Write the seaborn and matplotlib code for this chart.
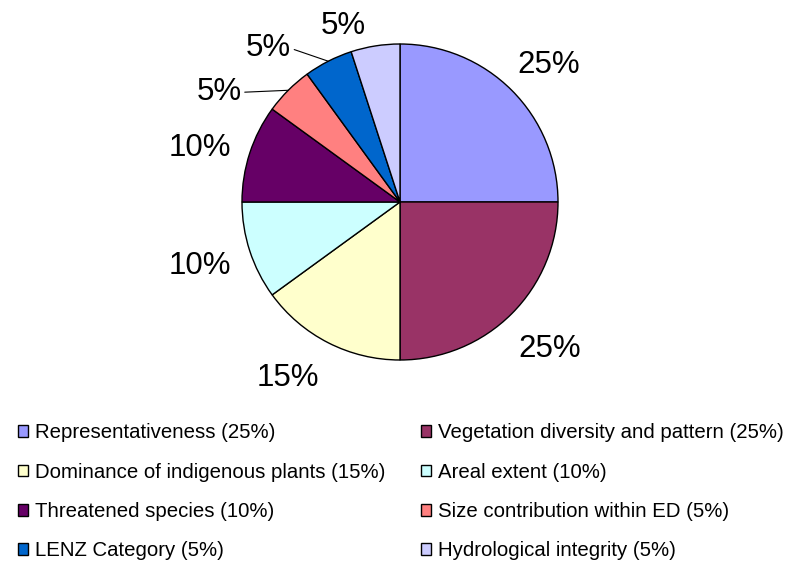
import matplotlib
matplotlib.use("Agg")
import numpy as np
import matplotlib.pyplot as plt
import matplotlib.patches as mpatches
import seaborn as sns

# criteria weights
criteria = [
    "Representativeness",
    "Vegetation diversity and pattern",
    "Dominance of indigenous plants",
    "Areal extent",
    "Threatened species",
    "Size contribution within ED",
    "LENZ Category",
    "Hydrological integrity",
]
weights = [25, 25, 15, 10, 10, 5, 5, 5]
slice_colors = ["#9999FF", "#993366", "#FFFFCC", "#CCFFFF",
                "#660066", "#FF8080", "#0066CC", "#CCCCFF"]

# label placement: (angle deg, radius) around pie centre, leader lines for small slices
label_pos = [(42.6, 1.28), (-44.4, 1.33), (237.5, 1.32), (197.7, 1.33),
             (165.0, 1.31), (148.8, 1.34), (130.6, 1.28), (108.0, 1.17)]
leader = [False, False, False, False, False, True, True, False]

sns.set_style("white")
plt.rcParams["font.family"] = ["Liberation Sans", "DejaVu Sans"]
plt.rcParams["text.color"] = "black"

W, H = 792, 570
fig = plt.figure(figsize=(W / 100, H / 100), dpi=100)
R = 158.0
cx, cy = 400.0, H - 202.0
xl, yl = (-1.6, 1.6), (-1.2, 1.28)
ax = fig.add_axes([(cx + xl[0] * R) / W, (cy + yl[0] * R) / H,
                   (xl[1] - xl[0]) * R / W, (yl[1] - yl[0]) * R / H])

wedges, _ = ax.pie(weights, colors=slice_colors, startangle=90, counterclock=False,
                   wedgeprops=dict(edgecolor="black", linewidth=1.0))
ax.set_xlim(*xl)
ax.set_ylim(*yl)
ax.set_aspect("equal")
ax.axis("off")

for w, val, (ang, rad), ld in zip(wedges, weights, label_pos, leader):
    tx = rad * np.cos(np.radians(ang))
    ty = rad * np.sin(np.radians(ang))
    txt = f"{val}%"
    if ld:
        mid = np.radians((w.theta1 + w.theta2) / 2)
        ex, ey = np.cos(mid), np.sin(mid)
        ax.annotate(txt, xy=(ex, ey), xytext=(tx, ty), fontsize=22.5,
                    ha="center", va="center",
                    arrowprops=dict(arrowstyle="-", color="black", lw=0.8,
                                    shrinkA=0, shrinkB=0, relpos=(1.0, 0.5)),
                    annotation_clip=False)
    else:
        ax.text(tx, ty, txt, fontsize=22.5, ha="center", va="center")

handles = [mpatches.Patch(facecolor=c, edgecolor="black", linewidth=1.0,
                          label=f"{n} ({v}%)")
           for n, v, c in zip(criteria, weights, slice_colors)]
order = [0, 2, 4, 6, 1, 3, 5, 7]
fig.legend([handles[i] for i in order], [handles[i].get_label() for i in order],
           ncol=2, loc="upper left", bbox_to_anchor=(8 / W, 1 - 413 / H),
           frameon=False, fontsize=14.7, handlelength=0.5, handleheight=0.5,
           handletextpad=0.3, columnspacing=1.78, labelspacing=1.0, borderpad=0)

fig.savefig("out.png", dpi=100)
